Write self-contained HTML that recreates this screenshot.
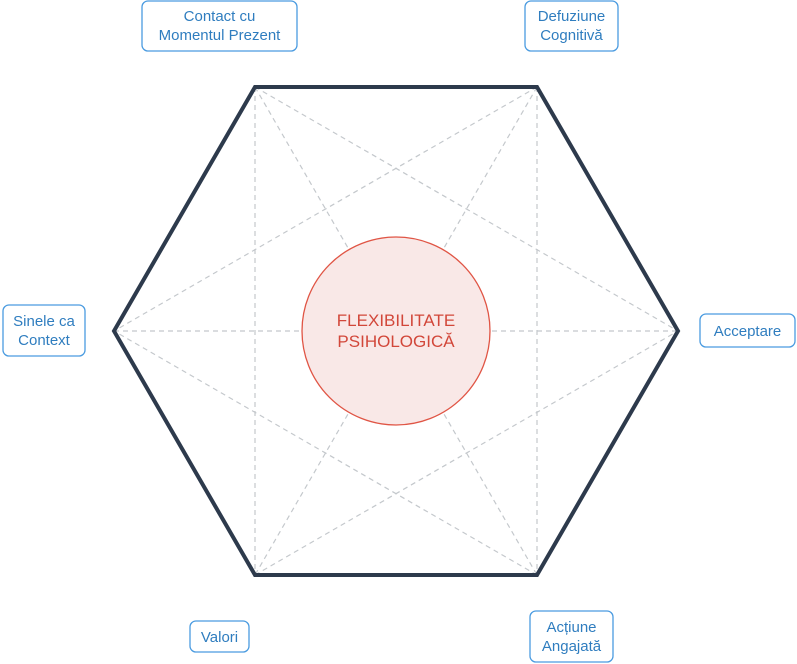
<!DOCTYPE html><html><head><style>body{margin:0;background:#fff}svg{display:block}</style></head><body>
<svg width="797" height="664" xmlns="http://www.w3.org/2000/svg" font-family="Liberation Sans, sans-serif">
<g stroke="#c4c8cc" stroke-width="1.2" stroke-dasharray="5,4" fill="none">
<line x1="255" y1="87" x2="537" y2="575"/><line x1="537" y1="87" x2="255" y2="575"/><line x1="114" y1="331" x2="678" y2="331"/>
<line x1="255" y1="87" x2="255" y2="575"/><line x1="537" y1="87" x2="537" y2="575"/>
<line x1="255" y1="87" x2="678" y2="331"/><line x1="537" y1="87" x2="114" y2="331"/>
<line x1="255" y1="575" x2="678" y2="331"/><line x1="537" y1="575" x2="114" y2="331"/>
</g>
<polygon points="255,87 537,87 678,331 537,575 255,575 114,331" fill="none" stroke="#2d3a4c" stroke-width="4" stroke-linejoin="miter"/>
<circle cx="396" cy="331" r="94" fill="#f9e8e7" stroke="#e05545" stroke-width="1.3"/>
<text x="396" y="326" text-anchor="middle" font-size="17" fill="#d2473a">FLEXIBILITATE</text>
<text x="396" y="347" text-anchor="middle" font-size="17" fill="#d2473a">PSIHOLOGICĂ</text>
<g fill="#fff" stroke="#4a9be0" stroke-width="1.3">
<rect x="142" y="1" width="155" height="50" rx="6"/>
<rect x="525" y="1" width="93" height="50" rx="6"/>
<rect x="3" y="305" width="82" height="51" rx="6"/>
<rect x="700" y="314" width="95" height="33" rx="6"/>
<rect x="190" y="621" width="59" height="31" rx="6"/>
<rect x="530" y="611" width="83" height="51" rx="6"/>
</g>
<g fill="#2f7dbf" font-size="15" text-anchor="middle">
<text x="219.5" y="21">Contact cu</text><text x="219.5" y="40">Momentul Prezent</text>
<text x="571.5" y="21">Defuziune</text><text x="571.5" y="40">Cognitivă</text>
<text x="44" y="326">Sinele ca</text><text x="44" y="345">Context</text>
<text x="747.5" y="336">Acceptare</text>
<text x="219.5" y="642">Valori</text>
<text x="571.5" y="632">Acțiune</text><text x="571.5" y="651">Angajată</text>
</g>
</svg></body></html>
